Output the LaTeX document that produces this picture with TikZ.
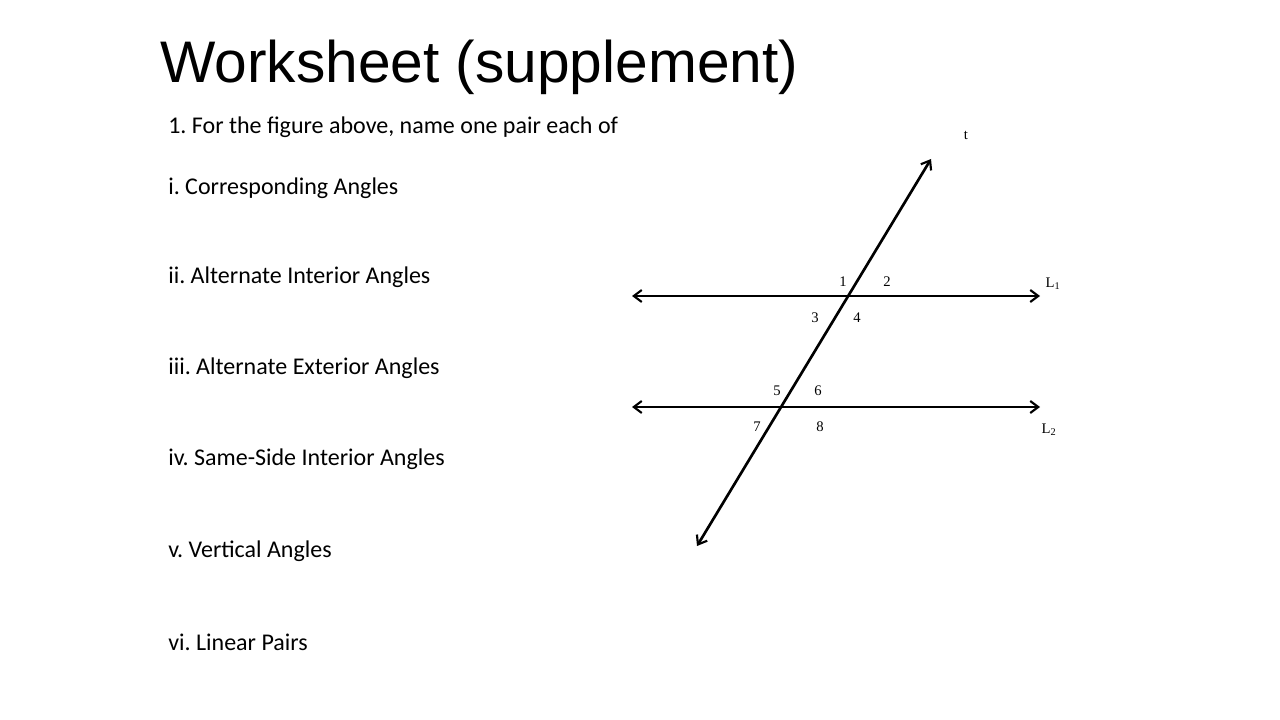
\documentclass[tikz,border=0pt]{standalone}
\usepackage{fontspec}
\setmainfont{Liberation Serif}
\newfontfamily\titlefont{Liberation Sans}
\newfontfamily\bodyfont{Carlito}
\usetikzlibrary{arrows.meta}
\frenchspacing
\begin{document}
\begin{tikzpicture}[x=0.75pt,y=-0.75pt,
  ln/.style={line width=2pt,{Straight Barb[length=6pt,width=9pt,line width=1.6pt]}-{Straight Barb[length=6pt,width=9pt,line width=1.6pt]}},
  body/.style={anchor=west,font=\bodyfont\fontsize{18}{21}\selectfont,inner sep=0},
  lab/.style={font=\fontsize{11}{13}\selectfont,inner sep=0}]
\useasboundingbox (0,0) rectangle (1280,720);
\node[anchor=west,inner sep=0,font=\titlefont\fontsize{44}{50}\selectfont] (title) at (160,67) {Worksheet (supplement)};
\node[body] (q) at (168,127) {1. For the figure above, name one pair each of};
\node[body] (a) at (168,188) {i. Corresponding Angles};
\node[body] (b) at (168,277) {ii. Alternate Interior Angles};
\node[body] (c) at (168,368) {iii. Alternate Exterior Angles};
\node[body] (d) at (168,459) {iv. Same-Side Interior Angles};
\node[body] (e) at (168,551) {v. Vertical Angles};
\node[body] (f) at (168,642) {vi. Linear Pairs};
\coordinate (l1a) at (632,296); \coordinate (l1b) at (1040,296);
\coordinate (l2a) at (632,407); \coordinate (l2b) at (1040,407);
\coordinate (ta) at (697,546); \coordinate (tb) at (931,159);
\draw[ln] (l1a) -- (l1b);
\draw[ln] (l2a) -- (l2b);
\draw[ln] (ta) -- (tb);
\node[lab] (t) at (966,135) {t};
\node[lab] (n1) at (843,282) {1};
\node[lab] (n2) at (887,282) {2};
\node[lab] (n3) at (815,318) {3};
\node[lab] (n4) at (857,318) {4};
\node[lab] (n5) at (777,391) {5};
\node[lab] (n6) at (818,391) {6};
\node[lab] (n7) at (757,427) {7};
\node[lab] (n8) at (820,427) {8};
\node[lab] (L1) at (1053,284) {L\textsubscript{1}};
\node[lab] (L2) at (1049,430) {L\textsubscript{2}};
\end{tikzpicture}
\end{document}
